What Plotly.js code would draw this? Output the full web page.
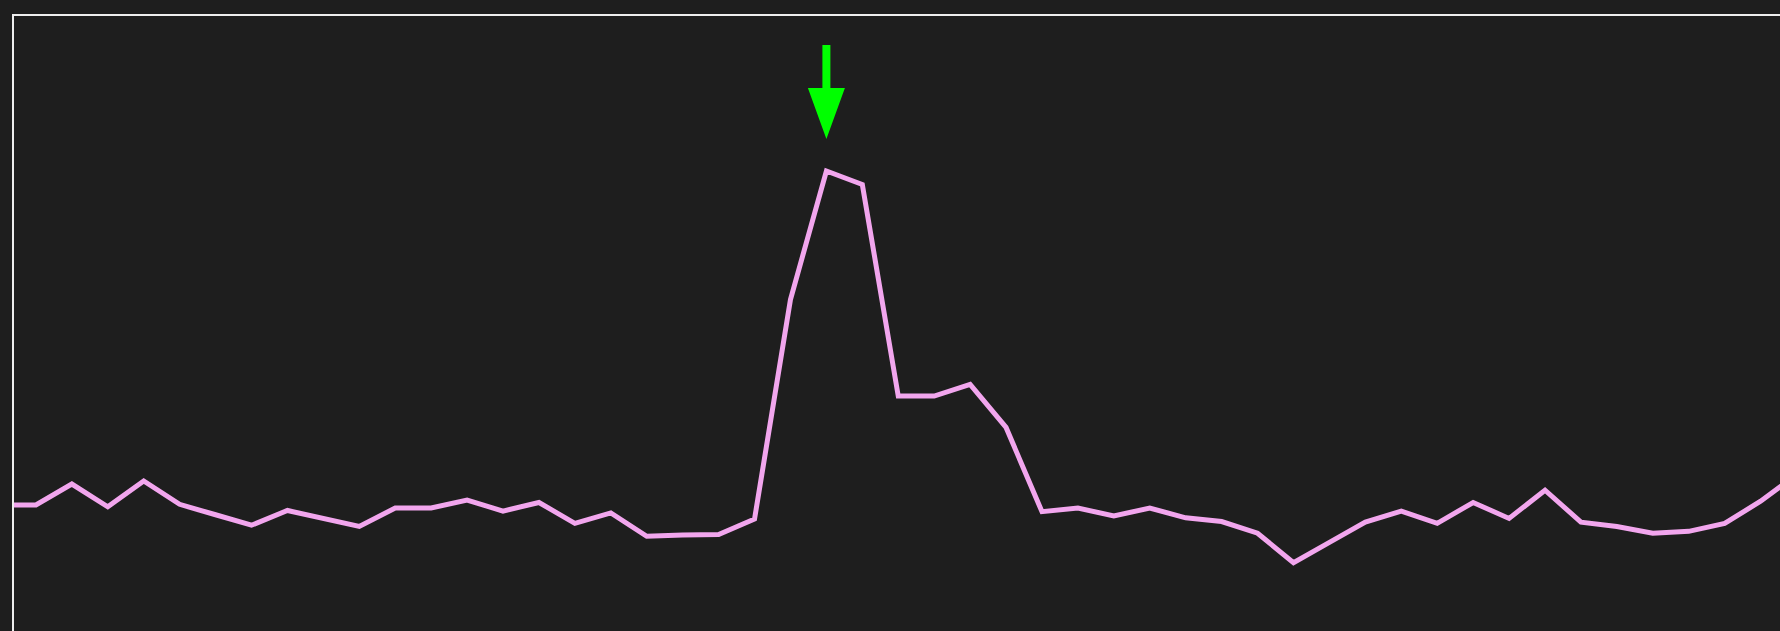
<!DOCTYPE html>
<html>
<head>
<meta charset="utf-8">
<script src="https://cdn.plot.ly/plotly-3.0.1.min.js"></script>
<style>
  html, body { margin: 0; padding: 0; background: #1e1e1e; overflow: hidden; }
  #chart { width: 1780px; height: 631px; }
</style>
</head>
<body>
<div id="chart"></div>
<script>
// ---- data ----
const sampleIndex = [
  0, 1, 2, 3, 4, 5, 6, 7, 8, 9,
  10, 11, 12, 13, 14, 15, 16, 17, 18, 19,
  20, 21, 22, 23, 24, 25, 26, 27, 28, 29,
  30, 31, 32, 33, 34, 35, 36, 37, 38, 39,
  40, 41, 42, 43, 44, 45, 46, 47, 48, 49, 50
];
const signalValues = [
  20.5, 20.5, 23.9, 20.2, 24.4, 20.6, 18.9, 17.2, 19.6, 18.3,
  17.0, 20.0, 20.0, 21.3, 19.5, 20.9, 17.5, 19.2, 15.4, 15.6,
  15.7, 18.2, 53.9, 74.8, 72.6, 38.2, 38.2, 40.1, 33.1, 19.4,
  20.0, 18.7, 20.0, 18.4, 17.8, 15.9, 11.1, 14.4, 17.7, 19.5,
  17.5, 20.9, 18.3, 22.9, 17.7, 17.0, 15.9, 16.2, 17.5, 21.1, 25.4
];
const visibleRange = [0.39, 49.54];
const valueRange = [0, 100];

// ---- peak marker derived from the data ----
let peakIdx = 0;
signalValues.forEach((v, i) => { if (v > signalValues[peakIdx]) peakIdx = i; });

const trace = {
  x: sampleIndex,
  y: signalValues,
  type: 'scatter',
  mode: 'lines',
  line: { color: '#f2a6ee', width: 5 },
  hoverinfo: 'skip',
  showlegend: false
};

const layout = {
  width: 1780,
  height: 631,
  paper_bgcolor: '#1e1e1e',
  plot_bgcolor: '#1e1e1e',
  margin: { l: 14, r: 0, t: 16, b: 0, pad: 0 },
  showlegend: false,
  xaxis: {
    range: visibleRange,
    side: 'top',
    showline: true, linecolor: '#eeeeee', linewidth: 2, mirror: false,
    showgrid: false, zeroline: false, showticklabels: false, ticks: ''
  },
  yaxis: {
    range: valueRange,
    showline: true, linecolor: '#eeeeee', linewidth: 2, mirror: false,
    showgrid: false, zeroline: false, showticklabels: false, ticks: ''
  },
  shapes: [{
    type: 'path',
    xref: 'x', yref: 'y',
    xsizemode: 'pixel', ysizemode: 'pixel',
    xanchor: sampleIndex[peakIdx], yanchor: signalValues[peakIdx],
    path: 'M -4 126 L 4 126 L 4 83 L 18.5 83 L 0 32 L -18.5 83 L -4 83 Z',
    fillcolor: '#00ff00',
    line: { width: 0 },
    layer: 'above'
  }]
};

Plotly.newPlot('chart', [trace], layout, { displayModeBar: false, staticPlot: true });
</script>
</body>
</html>
